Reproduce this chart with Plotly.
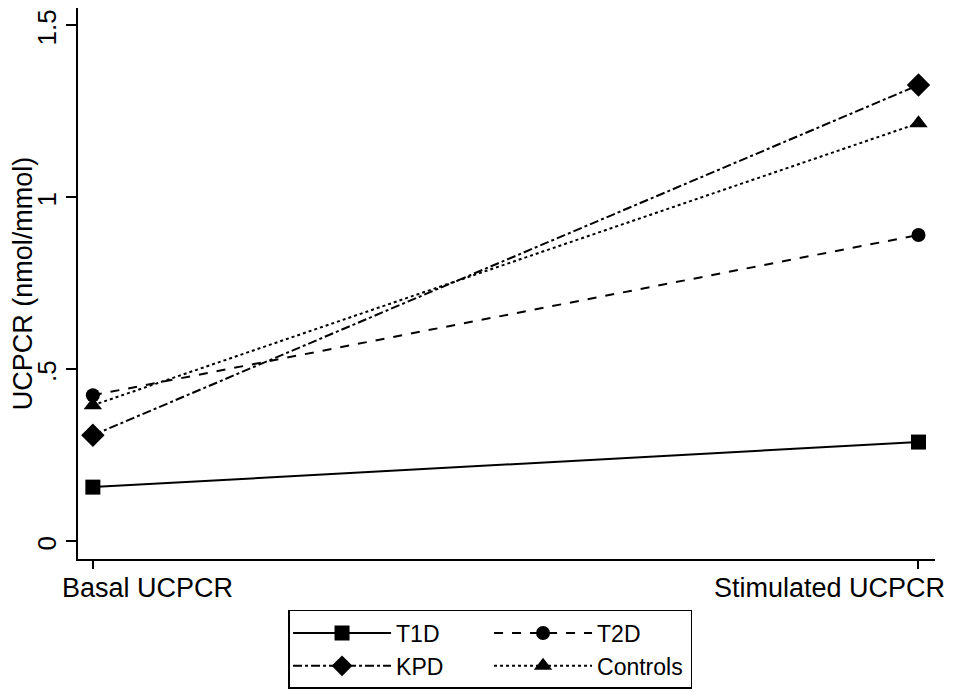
import plotly.graph_objects as go

categories = [0, 1]
tick_labels = ["Basal UCPCR", "Stimulated UCPCR"]
groups = ["T1D", "T2D", "KPD", "Controls"]
t1d = [0.157, 0.288]
t2d = [0.424, 0.89]
kpd = [0.308, 1.326]
controls = [0.395, 1.215]
y_ticks = [0, 0.5, 1, 1.5]
y_tick_labels = ["0", ".5", "1", "1.5"]

series = [t1d, t2d, kpd, controls]
dashes = ["solid", "dash", "dashdot", "dot"]
symbols = ["square", "circle", "diamond", "triangle-up"]
sizes = [15, 14, 18, 16]
legend_cols = ["a", "b", "a", "b"]

fig = go.Figure()
for name, vals, d, s, sz, lg in zip(groups, series, dashes, symbols, sizes, legend_cols):
    fig.add_trace(go.Scatter(
        x=categories, y=vals, name=name, mode="lines+markers",
        legendgroup=lg,
        line=dict(color="black", width=2, dash=d),
        marker=dict(symbol=s, size=sz, color="black"),
    ))

font = "Liberation Sans, Arial, sans-serif"
# the page body adds an 8px margin, so the figure is 16px smaller than the window
fig.update_layout(
    width=941, height=684,
    margin=dict(l=70, r=14, t=0, b=133, autoexpand=False),
    plot_bgcolor="white", paper_bgcolor="white",
    font=dict(family=font, size=27, color="black"),
    showlegend=True,
    legend=dict(
        orientation="h", xref="container", yref="container",
        x=0.2976, y=0.1199, xanchor="left", yanchor="top",
        bordercolor="black", borderwidth=1.5, bgcolor="white",
        entrywidth=88, entrywidthmode="pixels",
        font=dict(size=23), traceorder="grouped", tracegroupgap=0,
        itemwidth=98,
    ),
    xaxis=dict(
        range=[-0.018, 1.02], tickvals=categories, ticktext=tick_labels,
        showticklabels=False, automargin=False,
        showline=True, linecolor="black", linewidth=2, mirror=False,
        ticks="outside", ticklen=8, tickwidth=1.5, tickcolor="black",
        showgrid=False, zeroline=False,
    ),
    yaxis=dict(
        range=[-0.052, 1.55], tickvals=y_ticks, ticktext=y_tick_labels,
        showline=True, linecolor="black", linewidth=2, automargin=False,
        ticks="outside", ticklen=10, tickwidth=1.5, tickcolor="black",
        showgrid=False, zeroline=False, tickangle=-90,
        ticklabeloverflow="allow", ticklabelshift=6,
        title=dict(text="UCPCR (nmol/mmol)", font=dict(size=27)),
        tickfont=dict(size=26),
    ),
)

# category labels placed like the original (kept inside the figure)
fig.add_annotation(x=categories[0], y=0, xref="x", yref="paper",
                   text=tick_labels[0], showarrow=False,
                   xanchor="left", yanchor="top", xshift=-33, yshift=-12,
                   font=dict(size=27))
fig.add_annotation(x=categories[1], y=0, xref="x", yref="paper",
                   text=tick_labels[1], showarrow=False,
                   xanchor="right", yanchor="top", xshift=29, yshift=-12,
                   font=dict(size=27))

fig.write_html("out.html")
